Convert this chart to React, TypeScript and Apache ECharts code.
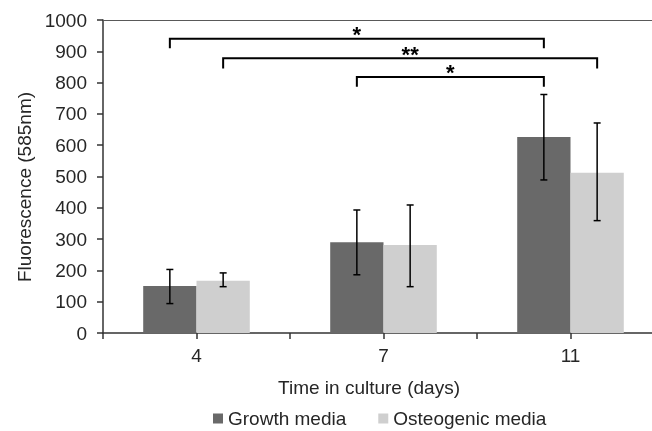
import React, { useEffect, useRef } from "react";
import * as echarts from "echarts";

const categories = ["4", "7", "11"];
const seriesNames = ["Growth media", "Osteogenic media"];
const growthValues = [150, 290, 626];
const osteoValues = [167, 281, 512];
const growthErrLow = [94, 186, 489];
const growthErrHigh = [203, 393, 762];
const osteoErrLow = [148, 148, 359];
const osteoErrHigh = [192, 409, 671];
const yTicks = [0, 100, 200, 300, 400, 500, 600, 700, 800, 900, 1000];
// brackets: [fromCategory, fromSeries(0 growth/1 osteo), toCategory, toSeries, topValue, endValue]
const brackets = [
  [0, 0, 2, 0, 940, 910],
  [0, 1, 2, 1, 878, 845],
  [1, 0, 2, 0, 818, 787],
];
const bracketLabels = ["*", "**", "*"];

const FONT = "Liberation Sans, Arial, sans-serif";
const TEXT = "#262626";
const BAR_OFFSET = 0.1425; // fraction of band width from category centre to bar centre

export default function App() {
  const ref = useRef<HTMLDivElement>(null);
  useEffect(() => {
    if (!ref.current) return;
    document.body.style.margin = "0";
    document.body.style.overflow = "hidden";
    const chart = echarts.init(ref.current, undefined, { renderer: "svg" });

    const errData = (lo: number[], hi: number[]) => lo.map((l, i) => [i, l, hi[i]]);
    const errSeries = (name: string, lo: number[], hi: number[], sign: number) => ({
      type: "custom",
      name: name + " error",
      z: 5,
      silent: true,
      clip: false,
      encode: { x: 0, y: [1, 2] },
      data: errData(lo, hi),
      renderItem: (params: any, api: any) => {
        const band = api.size([1, 0])[0];
        const p1 = api.coord([api.value(0), api.value(1)]);
        const p2 = api.coord([api.value(0), api.value(2)]);
        const x = p1[0] + sign * band * BAR_OFFSET;
        const cap = 3.5;
        const st = { stroke: "#000", lineWidth: 1.5, fill: null };
        return {
          type: "group",
          children: [
            { type: "line", shape: { x1: x, y1: p1[1], x2: x, y2: p2[1] }, style: st },
            { type: "line", shape: { x1: x - cap, y1: p1[1], x2: x + cap, y2: p1[1] }, style: st },
            { type: "line", shape: { x1: x - cap, y1: p2[1], x2: x + cap, y2: p2[1] }, style: st },
          ],
        };
      },
    });

    const tickStyle = { color: "#333", width: 1.5 };
    const option: any = {
      animation: false,
      grid: {
        left: 103,
        top: 20,
        width: 561,
        height: 313,
        containLabel: false,
        outerBoundsMode: "none",
      },
      legend: {
        data: seriesNames,
        icon: "rect",
        itemWidth: 10,
        itemHeight: 10,
        itemGap: 32,
        left: 208,
        top: 404,
        textStyle: { fontFamily: FONT, fontSize: 19, color: TEXT },
      },
      xAxis: [
        {
          type: "category",
          data: categories,
          position: "bottom",
          axisLine: { lineStyle: tickStyle },
          axisTick: { show: true, length: 6, lineStyle: tickStyle },
          axisLabel: { fontFamily: FONT, fontSize: 19, color: TEXT, margin: 13 },
        },
        {
          type: "category",
          data: categories,
          position: "bottom",
          offset: 0,
          axisLine: { show: false },
          axisTick: { show: true, alignWithLabel: true, length: 6, lineStyle: tickStyle },
          axisLabel: { show: false },
        },
        {
          type: "category",
          data: categories,
          position: "top",
          offset: 0,
          axisLine: { show: true, lineStyle: { color: "#595959", width: 1 } },
          axisTick: { show: false },
          axisLabel: { show: false },
        },
      ],
      yAxis: {
        type: "value",
        min: 0,
        max: 1000,
        interval: 100,
        axisLine: { show: true, lineStyle: tickStyle },
        axisTick: { show: true, length: 6, lineStyle: tickStyle },
        splitLine: { show: false },
        axisLabel: {
          fontFamily: FONT,
          fontSize: 19,
          color: TEXT,
          margin: 16,
          formatter: (v: number) => (yTicks.includes(v) ? String(v) : ""),
        },
      },
      graphic: [
        {
          type: "text",
          x: 24,
          y: 187,
          rotation: Math.PI / 2,
          style: {
            text: "Fluorescence (585nm)",
            fontFamily: FONT,
            fontSize: 19,
            fill: TEXT,
            textAlign: "center",
            textVerticalAlign: "middle",
          },
        },
        {
          type: "text",
          x: 369,
          y: 387,
          style: {
            text: "Time in culture (days)",
            fontFamily: FONT,
            fontSize: 19,
            fill: TEXT,
            textAlign: "center",
            textVerticalAlign: "middle",
          },
        },
      ],
      series: [
        {
          type: "bar",
          name: seriesNames[0],
          data: growthValues,
          barGap: "0%",
          barCategoryGap: "43%",
          itemStyle: { color: "#696969" },
        },
        {
          type: "bar",
          name: seriesNames[1],
          data: osteoValues,
          barGap: "0%",
          barCategoryGap: "43%",
          itemStyle: { color: "#cfcfcf" },
        },
        errSeries(seriesNames[0], growthErrLow, growthErrHigh, -1),
        errSeries(seriesNames[1], osteoErrLow, osteoErrHigh, 1),
        {
          type: "custom",
          name: "significance",
          z: 6,
          silent: true,
          clip: false,
          encode: { x: [0, 2], y: [4, 5] },
          data: brackets.map((b, i) => [...b, i]),
          renderItem: (params: any, api: any) => {
            const band = api.size([1, 0])[0];
            const off = (s: number) => (s === 0 ? -1 : 1) * band * BAR_OFFSET;
            const a = api.coord([api.value(0), api.value(4)]);
            const b = api.coord([api.value(2), api.value(4)]);
            const yEnd = api.coord([api.value(0), api.value(5)])[1];
            const x1 = a[0] + off(api.value(1));
            const x2 = b[0] + off(api.value(3));
            const y = a[1];
            return {
              type: "group",
              children: [
                {
                  type: "polyline",
                  shape: { points: [[x1, yEnd], [x1, y], [x2, y], [x2, yEnd]] },
                  style: { stroke: "#000", lineWidth: 2, fill: null },
                },
                {
                  type: "text",
                  x: (x1 + x2) / 2,
                  y: y - 4,
                  style: {
                    text: bracketLabels[api.value(6)],
                    fontFamily: FONT,
                    fontSize: 22,
                    fontWeight: "bold",
                    fill: "#000",
                    textAlign: "center",
                    textVerticalAlign: "middle",
                  },
                },
              ],
            };
          },
        },
      ],
    };
    chart.setOption(option);
    return () => chart.dispose();
  }, []);
  return <div ref={ref} style={{ position: "fixed", left: 0, top: 0, width: 652, height: 431 }} />;
}
